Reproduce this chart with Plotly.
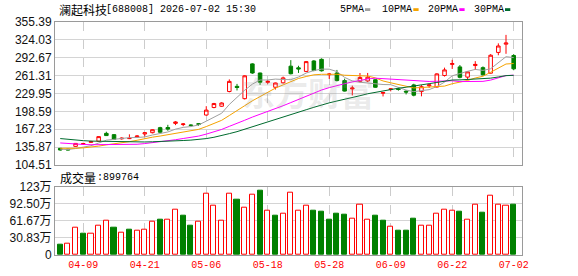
import plotly.graph_objects as go

# ---------------- data ----------------
dates = ["04-03", "04-07", "04-08", "04-09", "04-10", "04-13", "04-14", "04-15", "04-16", "04-17",
         "04-20", "04-21", "04-22", "04-23", "04-24", "04-27", "04-28", "04-29", "04-30", "05-06",
         "05-07", "05-08", "05-11", "05-12", "05-13", "05-14", "05-15", "05-18", "05-19", "05-20",
         "05-21", "05-22", "05-25", "05-26", "05-27", "05-28", "05-29", "06-01", "06-02", "06-03",
         "06-04", "06-05", "06-08", "06-09", "06-10", "06-11", "06-12", "06-15", "06-16", "06-17",
         "06-18", "06-22", "06-23", "06-24", "06-25", "06-26", "06-29", "06-30", "07-01", "07-02"]

opens = [133.7, 132.2, 137.2, 141.2, 144.3, 146.2, 160.0, 157.8, 150.5, 150.8,
         153.8, 159.0, 161.2, 170.0, 170.3, 177.5, 175.5, 174.8, 177.0, 192.2,
         205.4, 207.6, 233.4, 242.5, 220.9, 281.9, 265.9, 249.5, 240.9, 248.7,
         277.9, 275.0, 268.7, 287.0, 289.9, 263.0, 265.9, 252.6, 238.0, 251.2,
         252.0, 254.1, 230.5, 237.0, 238.0, 234.0, 245.0, 233.3, 243.5, 241.3,
         261.5, 281.0, 276.6, 258.7, 279.0, 275.3, 265.6, 302.0, 316.5, 296.6]
highs = [134.5, 133.2, 142.9, 143.5, 147.0, 154.8, 162.9, 158.5, 153.0, 158.3,
         157.0, 161.8, 167.0, 171.5, 175.0, 181.5, 178.2, 176.0, 178.0, 207.7,
         213.5, 214.5, 254.7, 246.8, 262.0, 283.0, 266.5, 253.3, 249.0, 259.6,
         288.5, 278.6, 287.0, 288.5, 291.6, 266.0, 271.3, 256.0, 243.7, 265.9,
         266.0, 255.0, 232.0, 239.5, 240.0, 235.8, 247.0, 244.7, 247.0, 265.5,
         275.3, 289.0, 279.9, 268.5, 286.7, 277.5, 299.0, 317.9, 332.8, 299.0]
lows = [129.8, 130.3, 136.5, 140.5, 143.6, 145.5, 155.5, 149.2, 149.0, 150.0,
        152.5, 154.3, 160.0, 161.0, 164.6, 174.5, 172.6, 172.5, 173.3, 191.0,
        204.0, 206.5, 232.0, 235.3, 219.5, 264.5, 245.0, 246.8, 236.9, 247.5,
        263.5, 266.0, 267.5, 269.0, 268.5, 255.5, 251.2, 233.5, 226.6, 249.5,
        250.0, 240.0, 224.8, 233.7, 235.0, 228.3, 225.0, 225.0, 240.0, 240.5,
        259.7, 273.0, 256.6, 254.1, 271.3, 261.5, 265.0, 297.0, 299.6, 270.8]
closes = [130.8, 131.0, 142.4, 142.0, 145.5, 154.3, 156.1, 149.7, 151.5, 151.2,
          155.2, 161.2, 166.4, 162.0, 167.5, 180.0, 176.5, 173.8, 176.0, 200.8,
          212.3, 213.3, 251.2, 240.5, 261.0, 265.9, 249.7, 251.2, 248.4, 257.3,
          264.6, 273.0, 285.9, 270.3, 269.8, 264.0, 252.6, 234.2, 239.5, 258.1,
          258.5, 240.9, 231.5, 238.0, 237.0, 232.5, 227.0, 241.9, 245.0, 264.3,
          271.3, 282.5, 258.3, 267.9, 281.0, 262.7, 297.1, 313.3, 318.5, 273.2]
# volume in units of 10,000 (万)
volumes_wan = [18.0, 19.8, 49.8, 37.8, 39.0, 53.4, 62.4, 48.6, 39.6, 45.0,
               43.2, 45.0, 59.4, 63.0, 63.0, 82.2, 70.2, 52.2, 59.4, 111.0,
               89.4, 62.4, 111.0, 99.0, 85.8, 109.2, 115.2, 79.2, 70.2, 75.0,
               112.8, 79.2, 89.4, 79.2, 77.4, 63.0, 73.8, 72.0, 66.0, 91.2,
               64.2, 70.2, 61.2, 51.6, 43.2, 43.2, 64.8, 53.4, 53.4, 75.0,
               82.2, 80.4, 77.4, 64.2, 91.2, 75.6, 107.4, 91.2, 89.4, 89.9764]
# closes before the visible window (needed for the moving averages at the left edge)
prior_closes = [178.0, 175.0, 173.4, 168.0, 166.0, 164.0, 162.0, 160.0, 159.0, 157.6,
                157.0, 156.0, 155.5, 155.0, 154.5, 154.0, 153.0, 150.0, 147.0, 143.2,
                137.0, 136.0, 135.5, 135.0, 134.0, 134.0, 133.5, 132.0, 131.0]

tick_labels = ["04-09", "04-21", "05-06", "05-18", "05-28", "06-09", "06-22", "07-02"]
price_ticks = [104.51, 135.87, 167.23, 198.59, 229.95, 261.31, 292.67, 324.03, 355.39]
vol_ticks = [0, 30.83, 61.67, 92.50, 123]
vol_tick_text = ["0", "30.83万", "61.67万", "92.50万", "123万"]
ma_periods = [5, 10, 20, 30]
ma_names = ["5PMA", "10PMA", "20PMA", "30PMA"]
title_name = "澜起科技"
title_rest = "[688008] 2026-07-02 15:30"

# ---------------- styles ----------------
RED = "#ff0000"
GREEN = "#008000"
MA_COLORS = ["#a0a0a0", "#f5a300", "#ff00ff", "#006b2e"]
GRID = "#d4d4d4"
FRAME = "#9a9a9a"

W, H = 578, 276
L, R, T, B = 55, 56, 22, 21
PW, PH = W - L - R, H - T - B


def px(x):
    return (x - L) / PW


def py(y):
    return (H - B - y) / PH


fig = go.Figure()

# moving averages (drawn under the candles)
allc = prior_closes + closes
n0 = len(prior_closes)
for n, name, col in zip(ma_periods, ma_names, MA_COLORS):
    ma = [sum(allc[k - n + 1:k + 1]) / n for k in range(n0, len(allc))]
    fig.add_trace(go.Scatter(x=dates, y=ma, mode="lines", name=name,
                             line=dict(color=col, width=1), xaxis="x", yaxis="y",
                             hoverinfo="skip"))

fig.add_trace(go.Candlestick(
    x=dates, open=opens, high=highs, low=lows, close=closes,
    increasing=dict(line=dict(color=RED, width=1), fillcolor="white"),
    decreasing=dict(line=dict(color=GREEN, width=1), fillcolor=GREEN),
    whiskerwidth=0, xaxis="x", yaxis="y", name="K"))

# volume colours follow change versus previous close
up = [closes[i] >= (closes[i - 1] if i > 0 else opens[i]) for i in range(len(closes))]
fig.add_trace(go.Bar(
    x=dates, y=volumes_wan, xaxis="x2", yaxis="y2", width=0.66,
    marker=dict(color=["white" if u else GREEN for u in up],
                line=dict(color=[RED if u else GREEN for u in up], width=1)),
    name="vol"))

xr = [-0.68, len(dates) - 1 + 1.08]
common_x = dict(type="category", range=xr, showgrid=True, gridcolor="#cccccc",
                griddash="dash", gridwidth=1, tickvals=tick_labels, ticktext=tick_labels,
                showline=True, mirror=True, linecolor=FRAME, linewidth=1, ticks="",
                zeroline=False, automargin=False, fixedrange=True)

price_dom = [py(165), 1.0]
vol_dom = [0.0, py(186.7)]

fig.update_layout(
    width=W, height=H, margin=dict(l=L, r=R, t=T, b=B, pad=0),
    paper_bgcolor="white", plot_bgcolor="white", showlegend=False,
    boxgap=0.34, bargap=0,
    xaxis=dict(common_x, anchor="y", domain=[0, 1], showticklabels=False,
               rangeslider=dict(visible=False)),
    xaxis2=dict(common_x, anchor="y2", domain=[0, 1], matches="x", showticklabels=True,
                tickfont=dict(family="Liberation Mono, DejaVu Sans Mono", size=10, color=RED)),
    yaxis=dict(domain=price_dom, range=[price_ticks[0], price_ticks[-1]], tickvals=price_ticks,
               ticktext=[f"{v:.2f}" for v in price_ticks], showgrid=True, gridcolor=GRID,
               gridwidth=1, showline=True, mirror=True, linecolor=FRAME, linewidth=1,
               ticks="", zeroline=False, automargin=False,
               tickfont=dict(family="Liberation Sans, Arial", size=12, color="#111111")),
    yaxis2=dict(domain=vol_dom, range=[0, vol_ticks[-1]], tickvals=vol_ticks,
                ticktext=vol_tick_text, showgrid=True, gridcolor=GRID, gridwidth=1,
                showline=True, mirror=True, linecolor=FRAME, linewidth=1, ticks="",
                zeroline=False, automargin=False,
                tickfont=dict(family="Liberation Sans, Noto Sans CJK SC", size=12, color="#111111")),
)

ann = []
# watermark
ann.append(dict(xref="paper", yref="paper", x=px(308), y=py(92), text="<b>东方财富</b>",
                showarrow=False, xanchor="center", yanchor="middle",
                font=dict(family="Noto Sans CJK SC", size=33, color="rgba(150,150,150,0.20)")))
# title
ann.append(dict(xref="paper", yref="paper", x=px(56.5), y=py(9.5), text=title_name,
                showarrow=False, xanchor="left", yanchor="middle",
                font=dict(family="Noto Sans CJK SC", size=12, color="#000000")))
ann.append(dict(xref="paper", yref="paper", x=px(103.5), y=py(9.5), text=title_rest,
                showarrow=False, xanchor="left", yanchor="middle",
                font=dict(family="Liberation Mono, DejaVu Sans Mono", size=10, color="#000000")))
# volume label
ann.append(dict(xref="paper", yref="paper", x=px(57.5), y=py(177), text="成交量",
                showarrow=False, xanchor="left", yanchor="middle",
                font=dict(family="Noto Sans CJK SC", size=12, color="#000000")))
ann.append(dict(xref="paper", yref="paper", x=px(95), y=py(177),
                text=":" + str(int(round(volumes_wan[-1] * 10000))),
                showarrow=False, xanchor="left", yanchor="middle",
                font=dict(family="Liberation Mono, DejaVu Sans Mono", size=10, color="#000000")))
# legend
leg_x = [338, 380, 426, 472]
sq_x = [365, 413.3, 459.3, 505]
shapes = []
for name, col, lx, sx in zip(ma_names, MA_COLORS, leg_x, sq_x):
    ann.append(dict(xref="paper", yref="paper", x=px(lx), y=py(9.5), text=name,
                    showarrow=False, xanchor="left", yanchor="middle",
                    font=dict(family="Liberation Mono, DejaVu Sans Mono", size=10, color="#000000")))
    shapes.append(dict(type="rect", xref="paper", yref="paper", x0=px(sx), x1=px(sx + 5.3),
                       y0=py(11), y1=py(8.2), fillcolor=col, line=dict(width=0)))

fig.update_layout(annotations=ann, shapes=shapes)
fig.write_html("out.html")
